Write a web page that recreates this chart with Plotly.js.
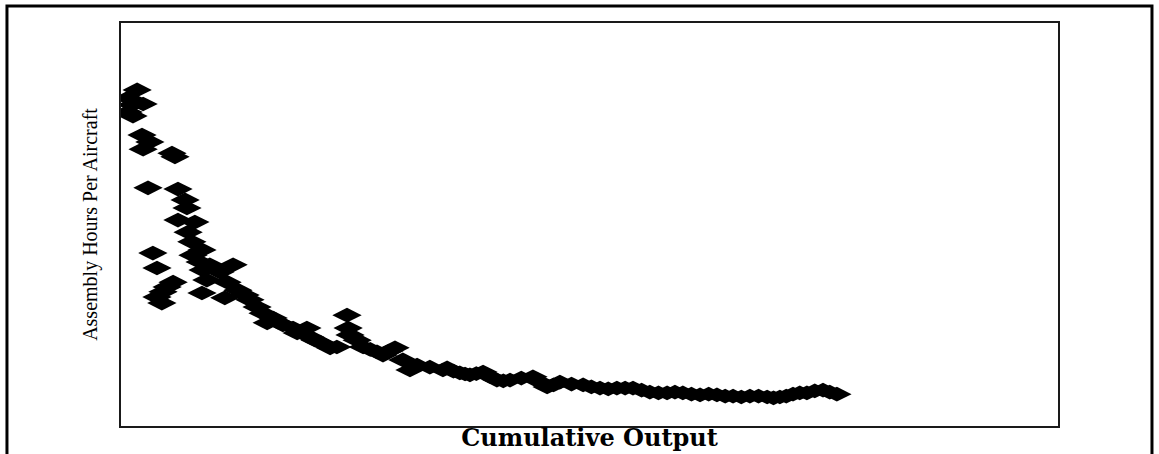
<!DOCTYPE html>
<html>
<head>
<meta charset="utf-8">
<script src="https://cdn.plot.ly/plotly-3.0.1.min.js"></script>
<style>
  html, body { margin: 0; padding: 0; background: #fff; }
  #chart { width: 1159px; height: 454px; }
</style>
</head>
<body>
<div id="chart"></div>
<script>
// Cumulative output (arbitrary units) and assembly hours per aircraft (arbitrary units)
const cumulativeOutput = [
  4.3, 1.9, 5.9, 2.9, 3.2, 1.9, 5.6, 7.7, 5.9, 13.6, 14.4, 7.2, 15.2, 17.1, 17.6, 15.2,
  19.7, 17.9, 18.9, 21.6, 19.2, 8.5, 9.6, 21.1, 23.7, 29.9, 13.9, 12.3, 11.2, 9.6, 10.9,
  21.9, 22.9, 26.4, 28.3, 21.6, 27.7, 31.2, 33.1, 34.4, 36.3, 37.9, 40.6, 41.9, 43.2, 39.0,
  45.9, 49.6, 47.0, 50.4, 51.8, 53.1, 55.8, 57.6, 60.3, 60.6, 61.1, 63.0, 64.6, 66.5, 68.3,
  69.9, 71.5, 73.1, 75.2, 77.1, 79.0, 82.4, 85.9,
  87.0, 88.7, 90.4, 91.8, 93.1, 94.8, 96.6, 98.4, 100.3, 102.0, 103.8, 106.8, 109.9,
  111.8, 113.7, 115.4, 117.1, 120.2, 123.3, 125.5, 127.8, 130.0, 132.3, 134.5, 136.6,
  138.9, 141.1, 143.4, 145.7, 147.8, 149.9, 152.2, 154.5, 156.8, 159.0, 161.2, 163.3,
  165.5, 167.8, 170.1, 172.4, 174.1, 175.8, 177.5, 179.3, 181.1, 183.0, 185.1, 187.3,
  189.1, 191.0
];
const assemblyHours = [
  83.4, 81.4, 79.9, 79.7, 76.9, 77.9, 72.2, 70.5, 68.7, 67.7, 66.8, 59.1, 58.8, 56.1, 54.1, 51.1,
  50.6, 48.1, 45.7, 43.7, 42.4, 42.9, 39.2, 40.7, 40.0, 40.0, 35.7, 34.5, 33.3, 32.0, 30.5,
  38.7, 36.2, 38.2, 35.7, 33.0, 31.8, 33.7, 32.5, 31.3, 29.5, 28.0, 26.8, 25.8, 25.1, 25.6,
  24.3, 24.3, 23.1, 22.1, 21.3, 20.8, 19.4, 19.6, 27.5, 24.3, 22.6, 21.3, 19.6, 19.0, 18.4,
  17.6, 18.6, 19.4, 16.4, 13.9, 15.1, 14.6, 13.9,
  14.4, 13.6, 13.2, 12.9, 12.7, 13.0, 13.4, 12.3, 11.4, 11.2, 11.4, 11.9, 12.2,
  10.9, 9.7, 10.2, 10.9, 10.4, 10.2, 9.7, 9.4, 9.2, 9.4, 9.4, 9.4,
  8.9, 8.4, 8.2, 8.2, 8.4, 8.2, 7.9, 7.7, 7.9, 7.7, 7.4, 7.4,
  7.2, 7.4, 7.4, 7.2, 7.0, 7.2, 7.4, 7.9, 8.2, 8.2, 8.7, 8.9,
  8.4, 7.9
];

const xTitle = "Cumulative Output";
const yTitle = "Assembly Hours Per Aircraft";

const trace = {
  type: "scatter",
  mode: "markers",
  x: cumulativeOutput,
  y: assemblyHours,
  marker: { symbol: "diamond-wide", size: 21, color: "#000000", line: { width: 0 } },
  hoverinfo: "x+y"
};

const layout = {
  width: 1159,
  height: 454,
  margin: { l: 121, r: 101, t: 23, b: 28, pad: 0 },
  paper_bgcolor: "#ffffff",
  plot_bgcolor: "#ffffff",
  showlegend: false,
  xaxis: {
    range: [0, 250],
    showgrid: false, zeroline: false, showticklabels: false, ticks: "",
    showline: true, mirror: true, linecolor: "#1a1a1a", linewidth: 2,
    title: { text: xTitle, standoff: 2, font: { family: "DejaVu Serif", size: 24, color: "#000", weight: "bold" } }
  },
  yaxis: {
    range: [0, 100],
    showgrid: false, zeroline: false, showticklabels: false, ticks: "",
    showline: true, mirror: true, linecolor: "#1a1a1a", linewidth: 2,
    title: { text: yTitle, standoff: 16, font: { family: "Liberation Serif", size: 20, color: "#000" } }
  },
  shapes: [{
    type: "rect", xref: "paper", yref: "paper",
    x0: -0.1217, x1: 1.1003, y0: -0.0844, y1: 1.0422,
    line: { color: "#000000", width: 3 }, fillcolor: "rgba(0,0,0,0)", layer: "below"
  }]
};

Plotly.newPlot("chart", [trace], layout, { displayModeBar: false, staticPlot: true });
</script>
</body>
</html>
